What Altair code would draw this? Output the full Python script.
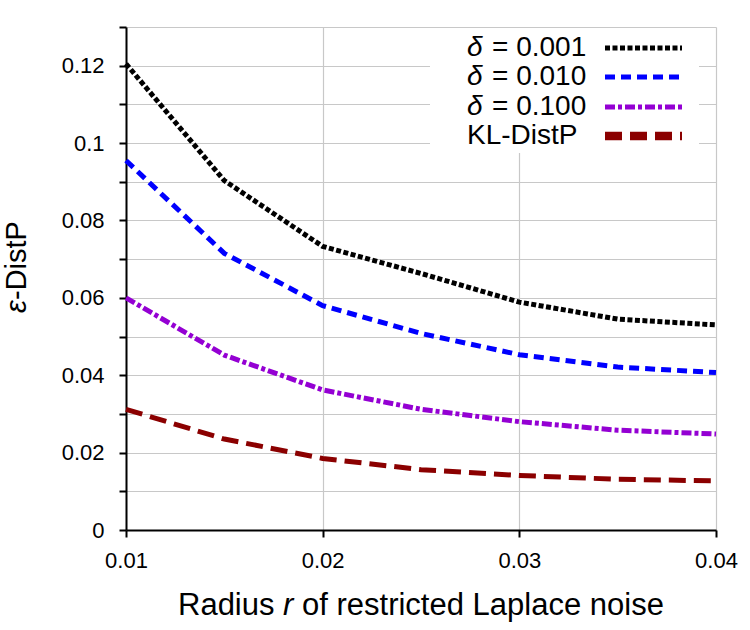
import altair as alt
import pandas as pd

# Sampled radii of the restricted Laplace noise
radius = [0.01, 0.015, 0.02, 0.025, 0.03, 0.035, 0.04]

# epsilon-DistP for each privacy setting
delta_0001 = [0.1205, 0.0903, 0.0733, 0.0663, 0.0589, 0.0545, 0.0530]
delta_0010 = [0.0955, 0.0715, 0.0580, 0.0508, 0.0453, 0.0421, 0.0407]
delta_0100 = [0.0600, 0.0452, 0.0362, 0.0312, 0.0280, 0.0258, 0.0248]
kl_distp = [0.0312, 0.0235, 0.0185, 0.0156, 0.0141, 0.0131, 0.0127]

series_names = ["δ = 0.001", "δ = 0.010", "δ = 0.100", "KL-DistP"]
legend_values = ["= 0.001", "= 0.010", "= 0.100", "KL-DistP"]
y_ticks = [0, 0.01, 0.02, 0.03, 0.04, 0.05, 0.06, 0.07, 0.08, 0.09, 0.10, 0.11, 0.12, 0.13]
x_ticks = [0.01, 0.02, 0.03, 0.04]

colors = ["#000000", "#0000ff", "#9400d3", "#8b0000"]
dashes = [[5, 2.5], [10, 6], [10, 3, 4, 3], [17, 8]]
widths = [5, 5, 5, 8.5]

FONT = "Liberation Sans"

rows = []
for name, vals in zip(series_names, [delta_0001, delta_0010, delta_0100, kl_distp]):
    for r, v in zip(radius, vals):
        rows.append({"radius": r, "value": v, "series": name})
df = pd.DataFrame(rows)

lines = alt.Chart(df).mark_line(strokeCap="butt", strokeJoin="miter").encode(
    x=alt.X(
        "radius:Q",
        scale=alt.Scale(domain=[0.01, 0.04], nice=False, zero=False),
        axis=alt.Axis(
            values=x_ticks, format=".2f", title="", grid=True,
            gridColor="#c8c8c8", gridWidth=1.2,
            domainColor="black", domainWidth=2,
            tickColor="black", tickWidth=2, tickSize=7,
            labelFont=FONT, labelFontSize=22, labelColor="black",
            labelPadding=13, labelFlush=False,
        ),
    ),
    y=alt.Y(
        "value:Q",
        scale=alt.Scale(domain=[0, 0.13], nice=False),
        axis=alt.Axis(
            values=y_ticks, format=".2~f", title="", grid=True,
            labelExpr="round(datum.value * 100) % 2 === 0 ? datum.label : ''",
            gridColor="#c8c8c8", gridWidth=1.2,
            domainColor="black", domainWidth=2,
            tickColor="black", tickWidth=2, tickSize=7,
            labelFont=FONT, labelFontSize=22, labelColor="black",
            labelPadding=15,
        ),
    ),
    color=alt.Color("series:N", scale=alt.Scale(domain=series_names, range=colors), legend=None),
    strokeDash=alt.StrokeDash("series:N", scale=alt.Scale(domain=series_names, range=dashes), legend=None),
    strokeWidth=alt.StrokeWidth("series:N", scale=alt.Scale(domain=series_names, range=widths), legend=None),
)

one = pd.DataFrame({"k": [0]})

# white panel behind the legend
legend_box = alt.Chart(one).mark_rect(color="white").encode(
    x=alt.value(304), x2=alt.value(573), y=alt.value(1), y2=alt.value(126)
)

layers = [legend_box, lines]

row_y = [21, 50, 80, 109]
for i, name in enumerate(series_names):
    y = row_y[i]
    layers.append(
        alt.Chart(one).mark_rule(
            color=colors[i], strokeDash=dashes[i], strokeWidth=widths[i], strokeCap="butt"
        ).encode(x=alt.value(479), x2=alt.value(556), y=alt.value(y))
    )
    if name.startswith("δ"):
        layers.append(
            alt.Chart(one).mark_text(
                text="δ", font=FONT, fontSize=28, fontStyle="italic", align="left",
                baseline="middle", color="black",
            ).encode(x=alt.value(341), y=alt.value(y))
        )
        layers.append(
            alt.Chart(one).mark_text(
                text=legend_values[i], font=FONT, fontSize=28, align="left",
                baseline="middle", color="black",
            ).encode(x=alt.value(366), y=alt.value(y))
        )
    else:
        layers.append(
            alt.Chart(one).mark_text(
                text=legend_values[i], font=FONT, fontSize=28, align="left",
                baseline="middle", color="black",
            ).encode(x=alt.value(341), y=alt.value(y))
        )

# x-axis title with an italic r
x_title_parts = [("Radius", "normal", 52), ("r", "italic", 157), ("of restricted Laplace noise", "normal", 176)]
for txt, style, px in x_title_parts:
    layers.append(
        alt.Chart(one).mark_text(
            text=txt, font=FONT, fontSize=31, fontStyle=style, align="left",
            baseline="alphabetic", color="black",
        ).encode(x=alt.value(px), y=alt.value(588))
    )

# y-axis title with an italic epsilon
y_title_parts = [("ε", "italic", 286), ("-DistP", "normal", 273)]
for txt, style, py in y_title_parts:
    layers.append(
        alt.Chart(one).mark_text(
            text=txt, font=FONT, fontSize=29, fontStyle=style, align="left",
            baseline="alphabetic", angle=270, color="black",
        ).encode(x=alt.value(-100), y=alt.value(py))
    )

chart = alt.layer(*layers).properties(
    width=590,
    height=503,
    autosize=alt.AutoSizeParams(type="none"),
    padding={"left": 126, "top": 27, "right": 34, "bottom": 100},
    background="white",
).configure_view(stroke=None)

chart.save("out.html", embed_options={"renderer": "svg", "actions": False})
